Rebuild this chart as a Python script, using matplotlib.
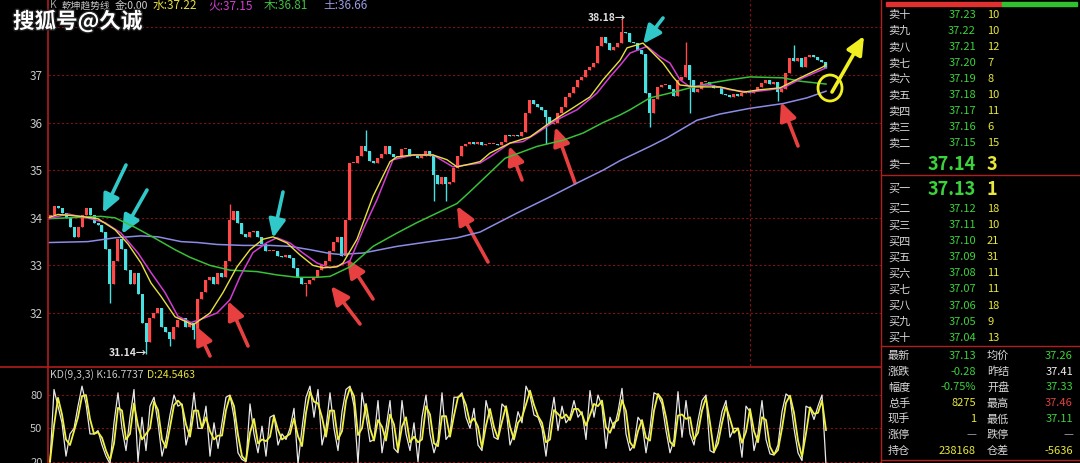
import numpy as np
import pandas as pd
import matplotlib
matplotlib.use("Agg")
import matplotlib.pyplot as plt
from matplotlib.patches import Ellipse, Rectangle
import matplotlib.patheffects as pe

plt.rcParams['font.family'] = ['Noto Sans CJK SC', 'DejaVu Sans']

W, H = 1080, 463

# ---------------- data ----------------
open0 = 34.0
closes = [
    34.05, 34.25, 34.2, 34.1, 34.0, 33.8, 33.6, 33.8, 34.05, 34.2,
    34.05, 33.9, 33.85, 33.7, 33.35, 32.6, 33.1, 33.55, 33.35, 32.9,
    32.6, 32.85, 32.4, 31.8, 31.4, 31.9, 32.0, 32.1, 31.7, 31.6,
    31.45, 31.7, 31.85, 31.9, 31.7, 31.8, 31.65, 32.3, 32.45, 32.7,
    32.75, 32.6, 32.85, 32.75, 33.1, 33.95, 34.15, 33.9, 33.65, 33.6,
    33.7, 33.72, 33.6, 33.45, 33.3, 33.3, 33.3, 33.2, 33.18, 33.22,
    33.15, 32.95, 32.75, 32.6, 32.6, 32.7, 32.75, 32.9, 33.0, 33.1,
    33.3, 33.5, 33.6, 33.2, 33.95, 35.15, 35.15, 35.3, 35.5, 35.4,
    35.2, 35.15, 35.25, 35.35, 35.5, 35.35, 35.27, 35.3, 35.45, 35.45,
    35.3, 35.3, 35.25, 35.3, 35.4, 35.3, 34.9, 34.7, 34.85, 34.7,
    34.75, 35.05, 35.3, 35.5, 35.55, 35.6, 35.55, 35.6, 35.52, 35.55,
    35.55, 35.55, 35.52, 35.6, 35.75, 35.72, 35.75, 35.72, 35.8, 36.2,
    36.48, 36.4, 36.33, 36.27, 36.12, 35.98, 36.0, 36.2, 36.33, 36.54,
    36.62, 36.75, 36.9, 36.96, 37.1, 37.17, 37.25, 37.6, 37.8, 37.67,
    37.52, 37.59, 37.67, 37.9, 37.88, 37.69, 37.67, 37.52, 37.45, 36.62,
    36.2, 36.5, 36.75, 36.8, 36.8, 36.7, 36.55, 36.9, 36.95, 37.2,
    36.9, 36.65, 36.7, 36.85, 36.85, 36.78, 36.72, 36.72, 36.6, 36.58,
    36.54, 36.6, 36.56, 36.62, 36.65, 36.62, 36.69, 36.75, 36.83, 36.9,
    36.82, 36.85, 36.65, 36.7, 37.05, 37.35, 37.3, 37.35, 37.17, 37.38,
    37.42, 37.38, 37.31, 37.27, 37.14,
]
spike_hi_idx = [45, 79, 143, 159, 186]
spike_hi_val = [34.3, 35.85, 38.18, 37.7, 37.62]
spike_lo_idx = [15, 24, 30, 36, 64, 96, 99, 124, 150, 160, 182]
spike_lo_val = [32.2, 31.14, 31.3, 31.45, 32.35, 34.35, 34.35, 35.55, 35.9, 36.2, 36.45]

# moving averages (bar index, value)
ma_water_i = [-0.5, 2, 7.75, 12, 16.25, 19.5, 22.75, 25.25, 27.75, 31.25, 34.5, 35.75, 40, 43.25,
              46.75, 50, 53.25, 55.75, 59.25, 62.5, 65.75, 68.25, 71.75, 73.25, 76.75, 80.75, 85,
              86.75, 90.75, 95.75, 99.25, 101.75, 105, 107.5, 110, 115, 120, 125, 130, 135, 138.25,
              142.5, 144.25, 148.25, 150.75, 153.25, 155.75, 157.5, 161.75, 167.5, 173.25, 177.5,
              182.5, 187.5, 193.25, 194]
ma_water_v = [34.0, 34.07, 34.03, 33.98, 33.75, 33.45, 33.05, 32.63, 32.35, 31.92, 31.8, 31.75, 32.0,
              32.43, 32.97, 33.33, 33.55, 33.6, 33.47, 33.22, 33.0, 32.95, 32.97, 33.05, 33.55, 34.45,
              35.18, 35.28, 35.32, 35.32, 35.22, 35.07, 35.13, 35.18, 35.36, 35.57, 35.7, 36.0, 36.27,
              36.54, 36.9, 37.31, 37.57, 37.67, 37.46, 37.25, 36.96, 36.79, 36.75, 36.75, 36.64, 36.69,
              36.73, 36.94, 37.17, 37.22]
ma_fire_i = [-0.5, 4.5, 10.25, 13.75, 17.75, 22, 25.25, 28.75, 32, 35.25, 37.5, 41.75, 45, 47.5, 50.75,
             54.25, 56.75, 60, 63.25, 66.75, 70, 72.5, 75, 78.25, 81.75, 85.75, 90.75, 95.75, 100.75,
             107.5, 110, 115, 118.25, 121.75, 126.75, 131.75, 136.75, 140, 142.5, 145, 149.25, 152.5,
             155, 157.5, 160, 165, 170, 175, 180, 183.25, 188.25, 194]
ma_fire_v = [33.98, 34.08, 33.98, 33.9, 33.68, 33.26, 32.85, 32.43, 31.93, 31.8, 31.86, 32.0, 32.28,
             32.76, 33.27, 33.48, 33.58, 33.47, 33.26, 33.05, 32.95, 33.0, 33.1, 33.75, 34.38, 35.22,
             35.32, 35.32, 35.07, 35.15, 35.28, 35.57, 35.6, 35.78, 36.06, 36.27, 36.62, 36.96, 37.2,
             37.46, 37.6, 37.38, 37.25, 36.9, 36.75, 36.79, 36.69, 36.64, 36.69, 36.73, 36.94, 37.15]
ma_wood_i = [-0.5, 4.5, 12.75, 16.25, 21.25, 26.25, 31.25, 35, 40, 45, 51.75, 56.75, 61.75, 66.75, 70,
             72.5, 75, 80.75, 86.75, 91.75, 96.75, 101.75, 105, 110, 113.75, 121.75, 128.25, 133.25,
             138.25, 142.5, 145, 150, 155, 160, 165, 170, 175, 183.25, 187.5, 194]
ma_wood_v = [33.98, 34.0, 34.03, 34.0, 33.8, 33.57, 33.33, 33.17, 33.0, 32.9, 32.87, 32.8, 32.75,
             32.75, 32.77, 32.87, 32.97, 33.4, 33.68, 33.9, 34.1, 34.3, 34.55, 34.95, 35.25, 35.5,
             35.63, 35.78, 36.0, 36.16, 36.27, 36.52, 36.62, 36.73, 36.83, 36.9, 36.96, 36.94, 36.87,
             36.81]
ma_earth_i = [-0.5, 9.5, 16.25, 22.75, 27, 32.75, 37, 41.75, 48.25, 55, 60, 65, 70, 72.5, 78.25, 86.75,
              95, 101.75, 107.5, 116.75, 125, 131.75, 138.25, 142.5, 150, 154.25, 161.75, 167.5, 175,
              183.25, 189.25, 194]
ma_earth_v = [33.48, 33.5, 33.58, 33.62, 33.6, 33.5, 33.48, 33.44, 33.42, 33.42, 33.4, 33.33, 33.25,
              33.23, 33.26, 33.4, 33.5, 33.58, 33.7, 34.1, 34.44, 34.73, 35.0, 35.2, 35.5, 35.68,
              36.05, 36.18, 36.3, 36.4, 36.52, 36.66]

k_vals = [
    20, 85, 70, 55, 25, 45, 50, 70, 88, 72,
    45, 45, 48, 35, 25, 18, 55, 82, 50, 30,
    60, 85, 20, 60, 30, 70, 78, 55, 25, 40,
    62, 80, 70, 72, 35, 50, 82, 50, 50, 70,
    25, 55, 32, 55, 78, 80, 60, 28, 22, 20,
    72, 45, 28, 52, 25, 60, 62, 35, 45, 40,
    50, 68, 18, 50, 78, 88, 60, 85, 35, 50,
    82, 50, 30, 65, 85, 88, 70, 18, 82, 62,
    38, 40, 75, 28, 50, 75, 32, 28, 75, 45,
    30, 55, 20, 60, 80, 45, 28, 40, 82, 40,
    45, 78, 78, 82, 60, 50, 68, 35, 30, 75,
    60, 42, 40, 72, 68, 35, 45, 65, 55, 88,
    80, 62, 60, 50, 25, 55, 78, 48, 70, 55,
    60, 75, 60, 65, 40, 84, 60, 80, 70, 32,
    60, 50, 65, 86, 45, 30, 35, 60, 55, 28,
    50, 82, 80, 72, 48, 28, 40, 83, 42, 75,
    45, 35, 57, 75, 80, 30, 28, 45, 65, 75,
    42, 50, 50, 24, 70, 65, 30, 45, 75, 40,
    27, 26, 35, 65, 81, 78, 50, 28, 21, 70,
    68, 58, 70, 80, 17,
]

price_ticks = [32, 33, 34, 35, 36, 37]
price_grid = [32, 33, 34, 35, 36, 37, 38]
kd_ticks = [20, 50, 80]

legend_items = [("K", "#9a9a9a", 50, 7.5), ("乾坤趋势线", "#c8c8c8", 62, 7),
                ("金:0.00", "#d0d0d0", 115, 7.5), ("水:37.22", "#e8e040", 153, 8.5),
                ("火:37.15", "#d040d0", 208, 8.5), ("木:36.81", "#40c040", 264, 8.5),
                ("土:36.66", "#9a9ae0", 323, 8.5)]

sell_labels = ["卖十", "卖九", "卖八", "卖七", "卖六", "卖五", "卖四", "卖三", "卖二"]
sell_prices = ["37.23", "37.22", "37.21", "37.20", "37.19", "37.18", "37.17", "37.16", "37.15"]
sell_vols = ["10", "10", "12", "7", "8", "10", "11", "6", "15"]
buy_labels = ["买二", "买三", "买四", "买五", "买六", "买七", "买八", "买九", "买十"]
buy_prices = ["37.12", "37.11", "37.10", "37.09", "37.08", "37.07", "37.06", "37.05", "37.04"]
buy_vols = ["18", "10", "21", "31", "11", "11", "18", "9", "13"]
stat_l_labels = ["最新", "涨跌", "幅度", "总手", "现手", "涨停", "持仓"]
stat_l_vals = ["37.13", "-0.28", "-0.75%", "8275", "1", "—", "238168"]
stat_l_cols = ["g", "g", "g", "y", "y", "n", "y"]
stat_r_labels = ["均价", "昨结", "开盘", "最高", "最低", "跌停", "仓差"]
stat_r_vals = ["37.26", "37.41", "37.33", "37.46", "37.11", "—", "-5636"]
stat_r_cols = ["g", "w", "g", "r", "g", "n", "y"]

# ---------------- figure ----------------
BG = "black"
GRID = "#7a1515"
AXRED = "#b01e1e"
GREEN = "#3cd23c"
YELLOW = "#e8e83c"
LABEL = "#d8d8d8"
cmap = {"g": GREEN, "y": YELLOW, "w": "#f0f0f0", "r": "#e04040", "n": "#a0a0a0"}


def fx(x):
    return x / W


def fy(y):
    return 1 - y / H


fig = plt.figure(figsize=(W / 100, H / 100), dpi=100, facecolor=BG)

# price panel
ax = fig.add_axes([fx(48), fy(366), fx(881 - 48), 366 / H])
ax.set_facecolor(BG)
n = len(closes)
idx = np.arange(n)
c = np.array(closes)
o = np.array([open0] + closes[:-1])
hi = np.maximum(o, c)
lo = np.minimum(o, c)
for i, v in zip(spike_hi_idx, spike_hi_val):
    hi[i] = max(hi[i], v)
for i, v in zip(spike_lo_idx, spike_lo_val):
    lo[i] = min(lo[i], v)
up = c >= o
cols = np.where(up, "#ff4848", "#48e0e0")
ax.vlines(idx, lo, hi, colors=cols, lw=1.0, zorder=3)
ax.bar(idx, np.maximum(np.abs(c - o), 0.02), bottom=np.minimum(o, c), width=0.75,
       color=cols, zorder=3, linewidth=0)

ax.plot(ma_earth_i, ma_earth_v, color="#8c8ce6", lw=1.1, zorder=4)
ax.plot(ma_wood_i, ma_wood_v, color="#38c038", lw=1.1, zorder=4)
ax.plot(ma_fire_i, ma_fire_v, color="#d23cd2", lw=1.1, zorder=5)
ax.plot(ma_water_i, ma_water_v, color="#e8e040", lw=1.0, zorder=6)

for g in price_grid:
    ax.axhline(g, color=GRID, lw=0.8, ls=(0, (2, 2)), zorder=1)
ax.axvline(175, color=GRID, lw=0.9, ls=(0, (2, 2)), zorder=1)

ax.set_xlim(-0.5, -0.5 + (881 - 48) / 4)
ax.set_ylim(32 - (366 - 313) / 47.6, 37 + 75 / 47.6)
ax.set_yticks(price_ticks)
ax.set_yticklabels([str(t) for t in price_ticks])
ax.tick_params(axis="y", length=0, pad=4, labelsize=8.5, labelcolor="#c8c8c8")
ax.set_xticks([])
for s in ax.spines.values():
    s.set_visible(False)

# KD panel
kx = fig.add_axes([fx(48), 0, fx(881 - 48), 96 / H])
kx.set_facecolor(BG)
k = pd.Series(k_vals, dtype=float)
d = k.rolling(2, min_periods=1).mean()
kx.plot(np.arange(len(k)), k, color="#e8e8e8", lw=0.9)
kx.plot(np.arange(len(d)), d, color="#f0f040", lw=1.3)
for g in kd_ticks:
    kx.axhline(g, color=GRID, lw=0.8, ls=(0, (2, 2)), zorder=0)
kx.set_xlim(-0.5, -0.5 + (881 - 48) / 4)
kx.set_ylim(20 - 1.3 / 1.11, 80 + 28 / 1.11)
kx.set_yticks(kd_ticks)
kx.set_yticklabels([str(t) for t in kd_ticks])
kx.tick_params(axis="y", length=0, pad=4, labelsize=8, labelcolor="#c8c8c8")
kx.set_xticks([])
for s in kx.spines.values():
    s.set_visible(False)

# frame lines
fig.add_artist(plt.Line2D([fx(48), fx(48)], [0, 1], color=AXRED, lw=1.2))
fig.add_artist(plt.Line2D([0, fx(881)], [fy(366.5), fy(366.5)], color=AXRED, lw=1.2))
fig.add_artist(plt.Line2D([fx(881), fx(881)], [0, 1], color=AXRED, lw=1.0))
for yy in [175, 346, 460]:
    fig.add_artist(plt.Line2D([fx(881), 1], [fy(yy), fy(yy)], color=AXRED, lw=1.0))
fig.add_artist(Rectangle((fx(886), fy(6)), fx(1002 - 886), 4 / H, color="#e03030",
                         transform=fig.transFigure))
fig.add_artist(Rectangle((fx(1002), fy(6)), fx(1077 - 1002), 4 / H, color="#30c030",
                         transform=fig.transFigure))

# legends
for txt, col, x, fs in legend_items:
    fig.text(fx(x), fy(5.5), txt, color=col, fontsize=fs, va="center", ha="left")
fig.text(fx(50), fy(375), "KD(9,3,3) K:16.7737", color="#c8c8c8", fontsize=7.5, va="center")
fig.text(fx(147), fy(375), "D:24.5463", color="#e8e040", fontsize=7.5, va="center")

fig.text(fx(13), fy(21.5), "搜狐号@久诚", color="white", fontsize=15.5, fontweight="bold",
         va="center", path_effects=[pe.withStroke(linewidth=2, foreground="#202020")])

fig.text(fx(588), fy(18), "38.18→", color="#e0e0e0", fontsize=7.5, fontweight="bold",
         va="center", ha="left")
fig.text(fx(109), fy(353), "31.14→", color="#e0e0e0", fontsize=7.5, fontweight="bold",
         va="center", ha="left")

# arrows (figure pixels, y from top)
cyan_arrows = [((126, 165), (103, 213)), ((147, 190), (122, 234)), ((283, 192), (273, 238)),
               ((663, 18), (643, 44))]
red_arrows = [((210, 356), (196, 326)), ((248, 346), (228, 301)), ((360, 324), (331, 286)),
              ((373, 299), (347, 259)), ((522, 180), (509, 146)), ((575, 183), (555, 127)),
              ((488, 262), (457, 206)), ((798, 146), (781, 102))]


def arrow(p0, p1, col):
    ax.annotate("", xy=(p1[0], H - p1[1]), xytext=(p0[0], H - p0[1]), xycoords="figure pixels",
                textcoords="figure pixels",
                arrowprops=dict(arrowstyle="-|>,head_length=1.1,head_width=0.5", lw=2.6,
                                color=col, mutation_scale=10, shrinkA=0, shrinkB=0))


for p0, p1 in cyan_arrows:
    arrow(p0, p1, "#30c8c8")
for p0, p1 in red_arrows:
    arrow(p0, p1, "#e84040")
arrow((832, 92), (864, 36), "#f0f020")
fig.add_artist(Ellipse((fx(830), fy(88)), fx(24), 26 / H, fill=False, ec="#f0f020", lw=2,
                       transform=fig.transFigure))

# order book
row = 16.1
for j in range(9):
    y = 14.7 + j * row
    fig.text(fx(888), fy(y), sell_labels[j], color=LABEL, fontsize=8, va="center")
    fig.text(fx(976), fy(y), sell_prices[j], color=GREEN, fontsize=8, va="center", ha="right")
    fig.text(fx(987), fy(y), sell_vols[j], color=YELLOW, fontsize=8, va="center")
fig.text(fx(888), fy(164), "卖一", color=LABEL, fontsize=8, va="center")
fig.text(fx(976), fy(164), "37.14", color=GREEN, fontsize=13, fontweight="bold", va="center", ha="right")
fig.text(fx(987), fy(164), "3", color=YELLOW, fontsize=13, fontweight="bold", va="center")
fig.text(fx(888), fy(189), "买一", color=LABEL, fontsize=8, va="center")
fig.text(fx(976), fy(189), "37.13", color=GREEN, fontsize=13, fontweight="bold", va="center", ha="right")
fig.text(fx(987), fy(189), "1", color=YELLOW, fontsize=13, fontweight="bold", va="center")
for j in range(9):
    y = 209 + j * row
    fig.text(fx(888), fy(y), buy_labels[j], color=LABEL, fontsize=8, va="center")
    fig.text(fx(976), fy(y), buy_prices[j], color=GREEN, fontsize=8, va="center", ha="right")
    fig.text(fx(987), fy(y), buy_vols[j], color=YELLOW, fontsize=8, va="center")
for j in range(7):
    y = 355.7 + j * 15.9
    fig.text(fx(888), fy(y), stat_l_labels[j], color=LABEL, fontsize=8, va="center")
    fig.text(fx(976), fy(y), stat_l_vals[j], color=cmap[stat_l_cols[j]], fontsize=8, va="center",
             ha="right")
    fig.text(fx(987), fy(y), stat_r_labels[j], color=LABEL, fontsize=8, va="center")
    fig.text(fx(1073), fy(y), stat_r_vals[j], color=cmap[stat_r_cols[j]], fontsize=8, va="center",
             ha="right")

fig.savefig("out.png", dpi=100, facecolor=BG)
